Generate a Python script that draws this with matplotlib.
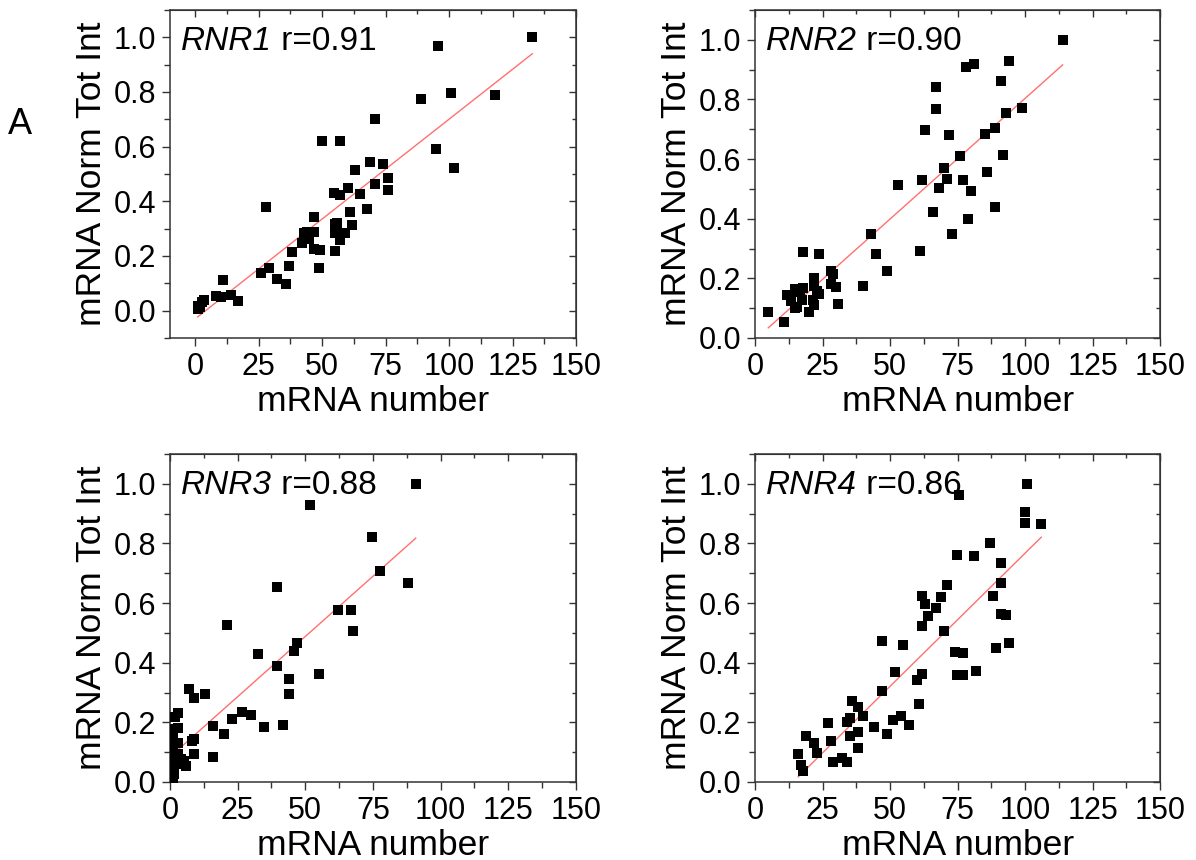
import numpy as np
import matplotlib
matplotlib.use("Agg")
import matplotlib.pyplot as plt
from matplotlib.ticker import MultipleLocator

plt.rcParams['font.family'] = ['Liberation Sans', 'DejaVu Sans']

# RNR1
rnr1_x = [132.8, 95.8, 100.8, 88.9, 118.0, 70.9, 49.9, 57.0, 94.8, 102.0, 62.9, 68.8,
          73.8, 76.0, 75.9, 70.9, 60.0, 64.7, 54.8, 57.0, 60.8, 67.8, 27.9, 46.8,
          55.0, 55.8, 61.9, 42.9, 43.9, 46.8, 54.9, 58.8, 57.0, 44.8, 41.9, 46.8,
          49.0, 54.9, 38.0, 37.0, 48.9, 26.0, 29.0, 32.0, 35.9, 10.9, 8.0, 10.2,
          13.9, 17.0, 3.4, 2.8, 1.2, 0.9, 1.7]
rnr1_y = [1.0, 0.967, 0.795, 0.773, 0.788, 0.701, 0.620, 0.622, 0.593, 0.522, 0.516, 0.545,
          0.538, 0.484, 0.443, 0.462, 0.450, 0.427, 0.429, 0.424, 0.362, 0.373, 0.380, 0.344,
          0.317, 0.322, 0.313, 0.283, 0.286, 0.287, 0.285, 0.283, 0.260, 0.262, 0.246, 0.227,
          0.221, 0.220, 0.213, 0.163, 0.155, 0.139, 0.156, 0.115, 0.099, 0.113, 0.054, 0.049,
          0.057, 0.035, 0.038, 0.030, 0.017, 0.005, 0.012]

# RNR2
rnr2_x = [113.9, 78.0, 80.9, 94.0, 91.0, 67.0, 67.0, 93.0, 99.0, 62.8, 71.8, 85.0,
          88.9, 75.9, 92.0, 70.0, 86.0, 61.7, 70.9, 77.0, 53.0, 68.0, 79.8, 65.8,
          88.9, 78.9, 72.9, 43.0, 44.8, 61.0, 48.9, 39.8, 17.9, 23.8, 28.0, 28.8,
          28.0, 29.8, 30.8, 21.8, 21.8, 23.8, 22.8, 14.9, 17.9, 16.6, 11.9, 13.5,
          14.8, 15.6, 17.4, 19.8, 21.8, 21.6, 4.9, 10.8, 13.5]
rnr2_y = [0.999, 0.910, 0.918, 0.928, 0.861, 0.842, 0.769, 0.755, 0.770, 0.699, 0.681, 0.683,
          0.705, 0.609, 0.614, 0.570, 0.555, 0.529, 0.533, 0.531, 0.513, 0.502, 0.492, 0.423,
          0.440, 0.399, 0.350, 0.350, 0.282, 0.293, 0.226, 0.174, 0.289, 0.283, 0.224, 0.213,
          0.181, 0.170, 0.115, 0.202, 0.174, 0.148, 0.159, 0.165, 0.168, 0.155, 0.143, 0.125,
          0.099, 0.103, 0.128, 0.087, 0.110, 0.129, 0.087, 0.054, 0.140]

# RNR3
rnr3_x = [90.8, 51.9, 74.8, 77.7, 87.8, 39.7, 61.9, 66.8, 67.8, 20.9, 46.9, 45.9,
          32.7, 39.7, 54.9, 43.8, 43.8, 6.9, 8.9, 12.9, 26.8, 29.8, 22.9, 34.8,
          41.7, 16.0, 19.9, 16.0, 8.9, 8.0, 8.9, 2.8, 1.8, 2.8, 1.2, 1.2,
          2.8, 1.0, 1.0, 3.1, 4.1, 5.2, 5.9, 2.5, 1.0, 1.6, 1.0, 0.4, 0.6, 1.8]
rnr3_y = [0.999, 0.928, 0.821, 0.708, 0.669, 0.654, 0.578, 0.578, 0.505, 0.525, 0.466, 0.439,
          0.428, 0.389, 0.363, 0.347, 0.295, 0.311, 0.283, 0.296, 0.236, 0.225, 0.212, 0.185,
          0.192, 0.187, 0.160, 0.085, 0.094, 0.137, 0.144, 0.232, 0.217, 0.182, 0.179, 0.156,
          0.132, 0.132, 0.115, 0.093, 0.078, 0.070, 0.054, 0.059, 0.065, 0.028, 0.011, 0.082,
          0.042, 0.093]

# RNR4
rnr4_x = [100.7, 75.7, 99.9, 99.9, 106.0, 87.0, 74.8, 81.0, 90.9, 90.9, 71.0, 61.9,
          68.9, 88.0, 63.0, 67.0, 64.0, 90.9, 92.9, 61.9, 70.0, 47.1, 54.9, 93.9,
          89.1, 74.0, 76.9, 51.8, 61.9, 74.8, 76.9, 81.9, 60.0, 47.1, 60.9, 36.0,
          38.0, 39.9, 35.0, 33.9, 27.0, 51.0, 53.9, 56.9, 44.0, 38.0, 35.0, 48.9,
          28.0, 18.9, 22.0, 38.0, 23.0, 16.0, 29.0, 32.1, 33.9, 17.0, 17.9]
rnr4_y = [1.0, 0.961, 0.906, 0.867, 0.865, 0.800, 0.762, 0.759, 0.734, 0.666, 0.659, 0.623,
          0.621, 0.623, 0.596, 0.582, 0.556, 0.565, 0.560, 0.522, 0.506, 0.472, 0.461, 0.467,
          0.450, 0.436, 0.434, 0.370, 0.362, 0.360, 0.358, 0.372, 0.343, 0.305, 0.260, 0.272,
          0.251, 0.220, 0.215, 0.201, 0.198, 0.209, 0.221, 0.192, 0.184, 0.168, 0.153, 0.161,
          0.137, 0.154, 0.131, 0.115, 0.098, 0.093, 0.067, 0.082, 0.067, 0.057, 0.037]

genes = ['RNR1', 'RNR2', 'RNR3', 'RNR4']
r_values = ['0.91', '0.90', '0.88', '0.86']
xs = [rnr1_x, rnr2_x, rnr3_x, rnr4_x]
ys = [rnr1_y, rnr2_y, rnr3_y, rnr4_y]
# fit lines (slope, intercept)
fit_slope = [0.0073, 0.00809, 0.00808, 0.00893]
fit_icpt = [-0.0295, -0.0056, 0.084, -0.1256]

fig = plt.figure(figsize=(11.96, 8.60), dpi=100)

boxes = [[0.1421, 0.607, 0.3395, 0.3814],
         [0.6313, 0.607, 0.3387, 0.3814],
         [0.1421, 0.0907, 0.3395, 0.3814],
         [0.6313, 0.0907, 0.3387, 0.3814]]
xlims = [(-10, 150), (0, 150), (0, 150), (0, 150)]
ylims = [(-0.1, 1.1), (0, 1.1), (0, 1.1), (0, 1.1)]

for i in range(4):
    ax = fig.add_axes(boxes[i])
    x = np.array(xs[i])
    y = np.array(ys[i])
    ax.plot(x, y, 's', color='black', markersize=6.5, markeredgewidth=0, zorder=3)
    fx = np.array([x.min(), x.max()])
    ax.plot(fx, fit_slope[i] * fx + fit_icpt[i], color='#ff7070', lw=1.0, zorder=2)

    ax.set_xlim(*xlims[i])
    ax.set_ylim(*ylims[i])
    ax.set_xticks([0, 25, 50, 75, 100, 125, 150])
    ax.set_yticks([0.0, 0.2, 0.4, 0.6, 0.8, 1.0])
    ax.xaxis.set_minor_locator(MultipleLocator(12.5))
    ax.yaxis.set_minor_locator(MultipleLocator(0.1))
    ax.set_yticklabels(['0.0', '0.2', '0.4', '0.6', '0.8', '1.0'])
    ax.tick_params(which='both', direction='out', top=False, right=False,
                   labelsize=22, color='#333333', width=1)
    ax.tick_params(which='major', length=6, pad=4)
    ax.tick_params(which='minor', length=4)
    for sp in ax.spines.values():
        sp.set_color('#333333')
        sp.set_linewidth(1.1)

    # mirrored ticks on top and right, pointing inward
    top = ax.secondary_xaxis('top')
    top.set_xticks([0, 25, 50, 75, 100, 125, 150])
    top.xaxis.set_minor_locator(MultipleLocator(12.5))
    top.tick_params(which='both', direction='in', labeltop=False, color='#333333', width=1)
    top.tick_params(which='major', length=5)
    top.tick_params(which='minor', length=3)
    top.spines['top'].set_color('#333333')
    right = ax.secondary_yaxis('right')
    right.set_yticks([0.0, 0.2, 0.4, 0.6, 0.8, 1.0])
    right.yaxis.set_minor_locator(MultipleLocator(0.1))
    right.tick_params(which='both', direction='in', labelright=False, color='#333333', width=1)
    right.tick_params(which='major', length=5)
    right.tick_params(which='minor', length=3)
    right.spines['right'].set_color('#333333')

    ax.set_xlabel('mRNA number', fontsize=25.5, labelpad=2)
    ax.set_ylabel('mRNA Norm Tot Int', fontsize=25.5, labelpad=4)
    gene_txt = ax.text(0.027, 0.877, genes[i], style='italic',
                       transform=ax.transAxes, fontsize=24, ha='left', va='baseline')
    ax.annotate(' r=' + r_values[i], xy=(1, 0), xycoords=gene_txt,
                fontsize=24, ha='left', va='bottom')

fig.text(20 / 1196, 1 - 125 / 860, 'A', fontsize=26, ha='center', va='center')

fig.savefig('out.png', dpi=100)
